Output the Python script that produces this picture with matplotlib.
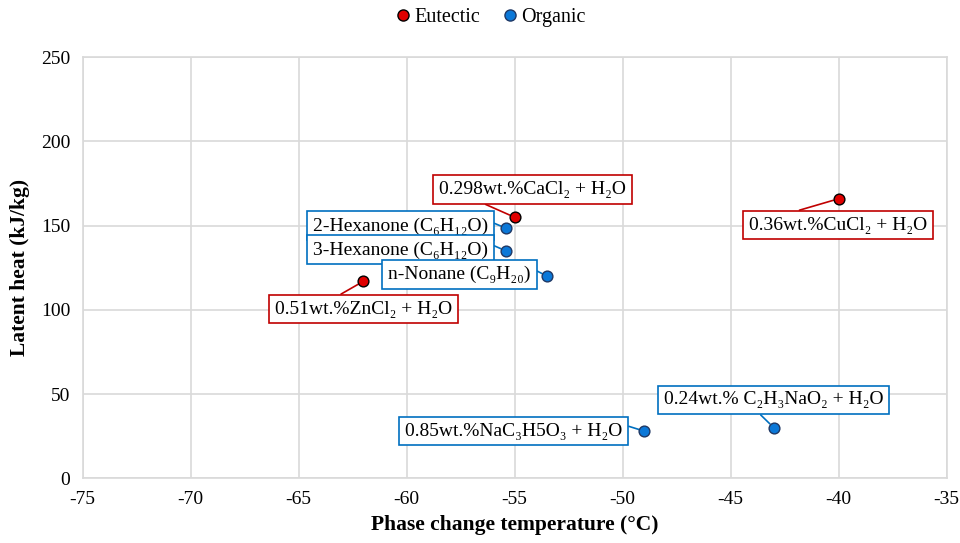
import matplotlib.pyplot as plt
from matplotlib.lines import Line2D

plt.rcParams['font.family'] = ['Liberation Serif', 'DejaVu Serif']
plt.rcParams['axes.unicode_minus'] = False

# 材料名称 / 相变温度 / 潜热
names = [
    "0.298wt.%CaCl₂ + H₂O",
    "0.51wt.%ZnCl₂ + H₂O",
    "0.36wt.%CuCl₂ + H₂O",
    "2-Hexanone (C₆H₁₂O)",
    "3-Hexanone (C₆H₁₂O)",
    "n-Nonane (C₉H₂₀)",
    "0.85wt.%NaC₃H5O₃ + H₂O",
    "0.24wt.% C₂H₃NaO₂ + H₂O",
]
temps = [-55.0, -62.0, -40.0, -55.4, -55.4, -53.5, -49.0, -43.0]
heats = [155, 117, 166, 148.5, 135, 120, 28, 30]
groups = ["Eutectic", "Eutectic", "Eutectic", "Organic", "Organic", "Organic", "Organic", "Organic"]

# 标签偏移 (points) 和引线起点 (标签框相对位置)
label_offsets = [(13, 20), (0, -20), (-0.5, -19), (-76, 1.7), (-76, 0.7), (-63, 1.1), (-94, 0), (0, 20)]
leader_from = [(0.17, 0), (0.31, 1), (0.16, 1), (1, 0.8), (1, 0.9), (1, 0.9), (1, 0.9), (0.41, 0)]

face = {"Eutectic": "#E00000", "Organic": "#0B78D8"}
edge = {"Eutectic": "#C00000", "Organic": "#0070C0"}

fig = plt.figure(figsize=(9.6, 5.43), dpi=100)
ax = fig.add_axes([0.0861, 0.1192, 0.9, 0.7753])

for n, t, h, g, off, rp in zip(names, temps, heats, groups, label_offsets, leader_from):
    ax.annotate(n, xy=(t, h), xytext=off, textcoords='offset points',
                ha='center', va='center', fontsize=14, zorder=4,
                bbox=dict(boxstyle='square,pad=0.3', fc='white', ec=edge[g], lw=1.2),
                arrowprops=dict(arrowstyle='-', color=edge[g], lw=1.2, shrinkA=0, shrinkB=4,
                                relpos=rp))

for g in ["Eutectic", "Organic"]:
    xs = [t for t, gg in zip(temps, groups) if gg == g]
    ys = [h for h, gg in zip(heats, groups) if gg == g]
    ax.scatter(xs, ys, s=60, c=face[g], edgecolors='black' if g == "Eutectic" else '#1F3864',
               linewidths=1, zorder=5)

ax.set_xlim(-75, -35)
ax.set_ylim(0, 250)
ax.set_xticks(range(-75, -34, 5))
ax.set_yticks(range(0, 251, 50))
ax.tick_params(length=0, labelsize=14, pad=9)
ax.grid(color='#D9D9D9', lw=1.2)
ax.set_axisbelow(True)
for s in ax.spines.values():
    s.set_color('#D9D9D9')
    s.set_linewidth(1.2)

ax.set_xlabel("Phase change temperature (°C)", fontsize=15.5, fontweight='bold', labelpad=5)
ax.set_ylabel("Latent heat (kJ/kg)", fontsize=15.5, fontweight='bold', labelpad=8)

handles = [Line2D([], [], ls='', marker='o', ms=8, mfc=face["Eutectic"], mec='black', label="Eutectic"),
           Line2D([], [], ls='', marker='o', ms=8, mfc=face["Organic"], mec='#1F3864', label="Organic")]
fig.legend(handles=handles, loc='center', bbox_to_anchor=(0.51, 0.968), ncol=2, frameon=False,
           fontsize=14.5, handletextpad=0.05, columnspacing=1.0, handlelength=1.0)

fig.savefig("out.png", dpi=100)
